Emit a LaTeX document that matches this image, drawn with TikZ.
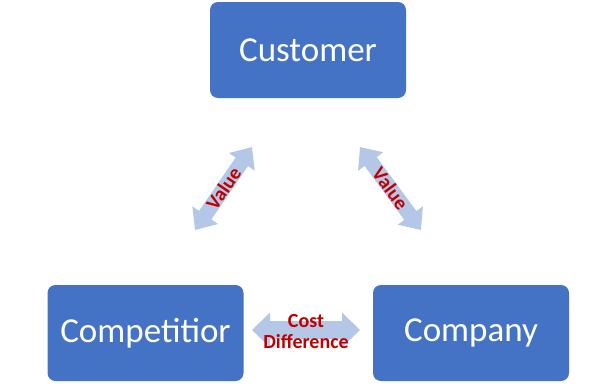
\documentclass[tikz,border=0pt]{standalone}
\usepackage{fontspec}
\setmainfont{Carlito}
\usetikzlibrary{arrows.meta}
\definecolor{boxblue}{HTML}{4472C4}
\definecolor{arrowblue}{HTML}{B4C7E7}
\definecolor{lblred}{HTML}{C00000}

\begin{document}
\begin{tikzpicture}[x=1pt,y=-1pt,
  box/.style={rectangle, rounded corners=8pt, fill=boxblue, text=white,
    minimum width=196pt, minimum height=96pt, inner sep=0pt,
    font=\fontsize{35}{40}\selectfont},
  biarrow/.style={arrowblue, line width=15pt,
    {Triangle[length=18pt,width=30pt]}-{Triangle[length=18pt,width=30pt]}},
  wideArrow/.style={arrowblue, line width=18pt,
    {Triangle[length=18pt,width=34pt]}-{Triangle[length=18pt,width=34pt]}},
  lbl/.style={text=lblred, font=\bfseries\fontsize{20}{21}\selectfont,
    align=center, inner sep=0pt}]
\useasboundingbox[fill=white] (0,0) rectangle (616,383);

% boxes
\node[box] (customer) at (308,50) {Customer};
\node[box] (competitior) at (145.5,333) {Competitior};
\node[box] (company) at (471,333) {Company};

% arrow ends
\coordinate (lefttop) at (252,147);
\coordinate (leftbot) at (195,230);
\coordinate (righttop) at (360,147);
\coordinate (rightbot) at (421,230);
\coordinate (botleft) at (252,330);
\coordinate (botright) at (360,330);

% arrows
\draw[biarrow] (leftbot) -- node[lbl, sloped] {Value} (lefttop);
\draw[biarrow] (righttop) -- node[lbl, sloped] {Value} (rightbot);
\draw[wideArrow] (botleft) -- (botright);
\node[lbl] (costdiff) at (306,332) {Cost\\Difference};
\end{tikzpicture}
\end{document}
